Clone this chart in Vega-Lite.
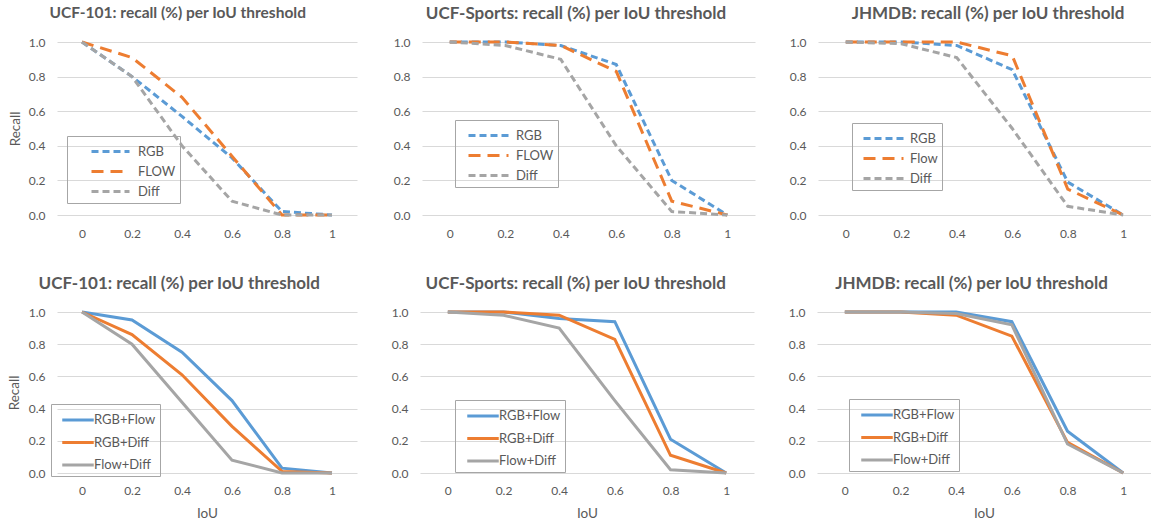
{
  "$schema": "https://vega.github.io/schema/vega-lite/v6.json",
  "padding": {"left": 7, "top": 5, "right": 0, "bottom": 0},
  "background": "white",
  "spacing": 36,
  "resolve": {"scale": {"color": "independent", "strokeDash": "independent"}, "legend": {"color": "independent", "strokeDash": "independent"}},
  "config": {
    "font": "Lato",
    "view": {"stroke": null},
    "axis": {"labelColor": "#595959", "labelFontSize": 12, "titleColor": "#595959", "titleFontSize": 13.5, "titleFontWeight": "normal", "gridColor": "#D9D9D9", "ticks": false, "domain": false},
    "axisX": {"grid": false, "labelAngle": 0, "labelPadding": 12},
    "axisY": {"grid": true, "labelPadding": 12, "titlePadding": 8},
    "title": {"fontSize": 17, "fontWeight": "bold", "color": "#595959", "frame": "bounds", "anchor": "middle", "offset": 13},
    "legend": {"orient": "none", "strokeColor": "#A6A6A6", "padding": 4, "symbolStrokeWidth": 3, "labelFontSize": 13, "labelColor": "#595959", "title": null, "rowPadding": 1}
  },
  "vconcat": [
    {
      "spacing": 0,
      "resolve": {"scale": {"color": "independent", "strokeDash": "independent"}, "legend": {"color": "independent", "strokeDash": "independent"}},
      "hconcat": [
        {
          "width": 300, "height": 173,
          "title": {"text": "UCF-101: recall (%) per IoU threshold", "fontSize": 15.5, "offset": 14.6, "dx": -5},
          "data": {"values": [
            {"iou": 0, "series": "RGB", "recall": 1.0}, {"iou": 0.2, "series": "RGB", "recall": 0.8}, {"iou": 0.4, "series": "RGB", "recall": 0.57}, {"iou": 0.6, "series": "RGB", "recall": 0.33}, {"iou": 0.8, "series": "RGB", "recall": 0.02}, {"iou": 1, "series": "RGB", "recall": 0.0},
            {"iou": 0, "series": "FLOW", "recall": 1.0}, {"iou": 0.2, "series": "FLOW", "recall": 0.91}, {"iou": 0.4, "series": "FLOW", "recall": 0.68}, {"iou": 0.6, "series": "FLOW", "recall": 0.34}, {"iou": 0.8, "series": "FLOW", "recall": 0.0}, {"iou": 1, "series": "FLOW", "recall": 0.0},
            {"iou": 0, "series": "Diff", "recall": 1.0}, {"iou": 0.2, "series": "Diff", "recall": 0.8}, {"iou": 0.4, "series": "Diff", "recall": 0.4}, {"iou": 0.6, "series": "Diff", "recall": 0.08}, {"iou": 0.8, "series": "Diff", "recall": 0.0}, {"iou": 1, "series": "Diff", "recall": 0.0}
          ]},
          "mark": {"type": "line", "strokeWidth": 3},
          "encoding": {
            "x": {"field": "iou", "type": "ordinal", "scale": {"type": "point", "padding": 0.5}, "axis": {"title": null, "labelPadding": 13, "minExtent": 24, "maxExtent": 24}},
            "y": {"field": "recall", "type": "quantitative", "scale": {"domain": [0, 1]}, "axis": {"title": "Recall", "values": [0, 0.2, 0.4, 0.6, 0.8, 1], "format": ".1f", "minExtent": 26.5, "maxExtent": 26.5}},
            "color": {"field": "series", "type": "nominal", "scale": {"domain": ["RGB", "FLOW", "Diff"], "range": ["#5B9BD5", "#ED7D31", "#A5A5A5"]}, "legend": {"legendX": 10, "legendY": 94, "symbolType": "M-1.9,0L1.9,0", "symbolSize": 400, "symbolOffset": 28, "labelOffset": 16}},
            "strokeDash": {"field": "series", "type": "nominal", "scale": {"domain": ["RGB", "FLOW", "Diff"], "range": [[7, 4], [12, 7], [7, 4]]}, "legend": {"legendX": 10, "legendY": 94, "symbolType": "M-1.9,0L1.9,0", "symbolSize": 400, "symbolOffset": 28, "labelOffset": 16}}
          }
        },
        {
          "width": 333, "height": 173,
          "title": {"text": "UCF-Sports: recall (%) per IoU threshold", "dx": 20},
          "data": {"values": [
            {"iou": 0, "series": "RGB", "recall": 1.0}, {"iou": 0.2, "series": "RGB", "recall": 1.0}, {"iou": 0.4, "series": "RGB", "recall": 0.98}, {"iou": 0.6, "series": "RGB", "recall": 0.87}, {"iou": 0.8, "series": "RGB", "recall": 0.2}, {"iou": 1, "series": "RGB", "recall": 0.0},
            {"iou": 0, "series": "FLOW", "recall": 1.0}, {"iou": 0.2, "series": "FLOW", "recall": 1.0}, {"iou": 0.4, "series": "FLOW", "recall": 0.98}, {"iou": 0.6, "series": "FLOW", "recall": 0.83}, {"iou": 0.8, "series": "FLOW", "recall": 0.08}, {"iou": 1, "series": "FLOW", "recall": 0.0},
            {"iou": 0, "series": "Diff", "recall": 1.0}, {"iou": 0.2, "series": "Diff", "recall": 0.98}, {"iou": 0.4, "series": "Diff", "recall": 0.9}, {"iou": 0.6, "series": "Diff", "recall": 0.4}, {"iou": 0.8, "series": "Diff", "recall": 0.02}, {"iou": 1, "series": "Diff", "recall": 0.0}
          ]},
          "mark": {"type": "line", "strokeWidth": 3},
          "encoding": {
            "x": {"field": "iou", "type": "ordinal", "scale": {"type": "point", "padding": 0.5}, "axis": {"title": null, "labelPadding": 13, "minExtent": 24, "maxExtent": 24}},
            "y": {"field": "recall", "type": "quantitative", "scale": {"domain": [0, 1]}, "axis": {"title": null, "values": [0, 0.2, 0.4, 0.6, 0.8, 1], "format": ".1f", "minExtent": 65, "maxExtent": 65}},
            "color": {"field": "series", "type": "nominal", "scale": {"domain": ["RGB", "FLOW", "Diff"], "range": ["#5B9BD5", "#ED7D31", "#A5A5A5"]}, "legend": {"legendX": 33, "legendY": 78, "symbolType": "M-2,0L2,0", "symbolSize": 400, "symbolOffset": 18, "labelOffset": 16}},
            "strokeDash": {"field": "series", "type": "nominal", "scale": {"domain": ["RGB", "FLOW", "Diff"], "range": [[7, 4], [12, 7], [7, 4]]}, "legend": {"legendX": 33, "legendY": 78, "symbolType": "M-2,0L2,0", "symbolSize": 400, "symbolOffset": 18, "labelOffset": 16}}
          }
        },
        {
          "width": 333, "height": 173,
          "title": {"text": "JHMDB: recall (%) per IoU threshold", "dx": 35},
          "data": {"values": [
            {"iou": 0, "series": "RGB", "recall": 1.0}, {"iou": 0.2, "series": "RGB", "recall": 1.0}, {"iou": 0.4, "series": "RGB", "recall": 0.98}, {"iou": 0.6, "series": "RGB", "recall": 0.84}, {"iou": 0.8, "series": "RGB", "recall": 0.19}, {"iou": 1, "series": "RGB", "recall": 0.0},
            {"iou": 0, "series": "Flow", "recall": 1.0}, {"iou": 0.2, "series": "Flow", "recall": 1.0}, {"iou": 0.4, "series": "Flow", "recall": 1.0}, {"iou": 0.6, "series": "Flow", "recall": 0.92}, {"iou": 0.8, "series": "Flow", "recall": 0.15}, {"iou": 1, "series": "Flow", "recall": 0.0},
            {"iou": 0, "series": "Diff", "recall": 1.0}, {"iou": 0.2, "series": "Diff", "recall": 0.99}, {"iou": 0.4, "series": "Diff", "recall": 0.91}, {"iou": 0.6, "series": "Diff", "recall": 0.5}, {"iou": 0.8, "series": "Diff", "recall": 0.05}, {"iou": 1, "series": "Diff", "recall": 0.0}
          ]},
          "mark": {"type": "line", "strokeWidth": 3},
          "encoding": {
            "x": {"field": "iou", "type": "ordinal", "scale": {"type": "point", "padding": 0.5}, "axis": {"title": null, "labelPadding": 13, "minExtent": 24, "maxExtent": 24}},
            "y": {"field": "recall", "type": "quantitative", "scale": {"domain": [0, 1]}, "axis": {"title": null, "values": [0, 0.2, 0.4, 0.6, 0.8, 1], "format": ".1f", "minExtent": 63, "maxExtent": 63}},
            "color": {"field": "series", "type": "nominal", "scale": {"domain": ["RGB", "Flow", "Diff"], "range": ["#5B9BD5", "#ED7D31", "#A5A5A5"]}, "legend": {"legendX": 34, "legendY": 81, "symbolType": "M-2,0L2,0", "symbolSize": 400, "symbolOffset": 16, "labelOffset": 15}},
            "strokeDash": {"field": "series", "type": "nominal", "scale": {"domain": ["RGB", "Flow", "Diff"], "range": [[7, 4], [12, 7], [7, 4]]}, "legend": {"legendX": 34, "legendY": 81, "symbolType": "M-2,0L2,0", "symbolSize": 400, "symbolOffset": 16, "labelOffset": 15}}
          }
        }
      ]
    },
    {
      "spacing": 0,
      "resolve": {"scale": {"color": "independent"}, "legend": {"color": "independent"}},
      "hconcat": [
        {
          "width": 300, "height": 161,
          "title": {"text": "UCF-101: recall (%) per IoU threshold", "dx": -3},
          "data": {"values": [
            {"iou": 0, "series": "RGB+Flow", "recall": 1.0}, {"iou": 0.2, "series": "RGB+Flow", "recall": 0.95}, {"iou": 0.4, "series": "RGB+Flow", "recall": 0.75}, {"iou": 0.6, "series": "RGB+Flow", "recall": 0.45}, {"iou": 0.8, "series": "RGB+Flow", "recall": 0.03}, {"iou": 1, "series": "RGB+Flow", "recall": 0.0},
            {"iou": 0, "series": "RGB+Diff", "recall": 1.0}, {"iou": 0.2, "series": "RGB+Diff", "recall": 0.86}, {"iou": 0.4, "series": "RGB+Diff", "recall": 0.61}, {"iou": 0.6, "series": "RGB+Diff", "recall": 0.29}, {"iou": 0.8, "series": "RGB+Diff", "recall": 0.01}, {"iou": 1, "series": "RGB+Diff", "recall": 0.0},
            {"iou": 0, "series": "Flow+Diff", "recall": 1.0}, {"iou": 0.2, "series": "Flow+Diff", "recall": 0.8}, {"iou": 0.4, "series": "Flow+Diff", "recall": 0.44}, {"iou": 0.6, "series": "Flow+Diff", "recall": 0.08}, {"iou": 0.8, "series": "Flow+Diff", "recall": 0.0}, {"iou": 1, "series": "Flow+Diff", "recall": 0.0}
          ]},
          "mark": {"type": "line", "strokeWidth": 3},
          "encoding": {
            "x": {"field": "iou", "type": "ordinal", "scale": {"type": "point", "padding": 0.5}, "axis": {"title": "IoU", "titlePadding": 10}},
            "y": {"field": "recall", "type": "quantitative", "scale": {"domain": [0, 1]}, "axis": {"title": "Recall", "values": [0, 0.2, 0.4, 0.6, 0.8, 1], "format": ".1f", "minExtent": 27.5, "maxExtent": 27.5}},
            "color": {"field": "series", "type": "nominal", "scale": {"domain": ["RGB+Flow", "RGB+Diff", "Flow+Diff"], "range": ["#5B9BD5", "#ED7D31", "#A5A5A5"]}, "legend": {"legendX": -6, "legendY": 92, "symbolType": "M-1.5,0L1.5,0", "symbolSize": 441, "symbolOffset": 11, "labelOffset": 4, "rowPadding": 3.5}}
          }
        },
        {
          "width": 334, "height": 161,
          "title": {"text": "UCF-Sports: recall (%) per IoU threshold", "dx": 20},
          "data": {"values": [
            {"iou": 0, "series": "RGB+Flow", "recall": 1.0}, {"iou": 0.2, "series": "RGB+Flow", "recall": 1.0}, {"iou": 0.4, "series": "RGB+Flow", "recall": 0.96}, {"iou": 0.6, "series": "RGB+Flow", "recall": 0.94}, {"iou": 0.8, "series": "RGB+Flow", "recall": 0.21}, {"iou": 1, "series": "RGB+Flow", "recall": 0.0},
            {"iou": 0, "series": "RGB+Diff", "recall": 1.0}, {"iou": 0.2, "series": "RGB+Diff", "recall": 1.0}, {"iou": 0.4, "series": "RGB+Diff", "recall": 0.98}, {"iou": 0.6, "series": "RGB+Diff", "recall": 0.83}, {"iou": 0.8, "series": "RGB+Diff", "recall": 0.11}, {"iou": 1, "series": "RGB+Diff", "recall": 0.0},
            {"iou": 0, "series": "Flow+Diff", "recall": 1.0}, {"iou": 0.2, "series": "Flow+Diff", "recall": 0.98}, {"iou": 0.4, "series": "Flow+Diff", "recall": 0.9}, {"iou": 0.6, "series": "Flow+Diff", "recall": 0.45}, {"iou": 0.8, "series": "Flow+Diff", "recall": 0.02}, {"iou": 1, "series": "Flow+Diff", "recall": 0.0}
          ]},
          "mark": {"type": "line", "strokeWidth": 3},
          "encoding": {
            "x": {"field": "iou", "type": "ordinal", "scale": {"type": "point", "padding": 0.5}, "axis": {"title": "IoU", "titlePadding": 10}},
            "y": {"field": "recall", "type": "quantitative", "scale": {"domain": [0, 1]}, "axis": {"title": null, "values": [0, 0.2, 0.4, 0.6, 0.8, 1], "format": ".1f", "minExtent": 62.5, "maxExtent": 62.5}},
            "color": {"field": "series", "type": "nominal", "scale": {"domain": ["RGB+Flow", "RGB+Diff", "Flow+Diff"], "range": ["#5B9BD5", "#ED7D31", "#A5A5A5"]}, "legend": {"legendX": 35, "legendY": 88, "symbolType": "M-1.5,0L1.5,0", "symbolSize": 441, "symbolOffset": 12, "labelOffset": 4, "rowPadding": 3.5}}
          }
        },
        {
          "width": 334, "height": 161,
          "title": {"text": "JHMDB: recall (%) per IoU threshold", "dx": 19},
          "data": {"values": [
            {"iou": 0, "series": "RGB+Flow", "recall": 1.0}, {"iou": 0.2, "series": "RGB+Flow", "recall": 1.0}, {"iou": 0.4, "series": "RGB+Flow", "recall": 1.0}, {"iou": 0.6, "series": "RGB+Flow", "recall": 0.94}, {"iou": 0.8, "series": "RGB+Flow", "recall": 0.26}, {"iou": 1, "series": "RGB+Flow", "recall": 0.0},
            {"iou": 0, "series": "RGB+Diff", "recall": 1.0}, {"iou": 0.2, "series": "RGB+Diff", "recall": 1.0}, {"iou": 0.4, "series": "RGB+Diff", "recall": 0.98}, {"iou": 0.6, "series": "RGB+Diff", "recall": 0.85}, {"iou": 0.8, "series": "RGB+Diff", "recall": 0.19}, {"iou": 1, "series": "RGB+Diff", "recall": 0.0},
            {"iou": 0, "series": "Flow+Diff", "recall": 1.0}, {"iou": 0.2, "series": "Flow+Diff", "recall": 1.0}, {"iou": 0.4, "series": "Flow+Diff", "recall": 0.99}, {"iou": 0.6, "series": "Flow+Diff", "recall": 0.92}, {"iou": 0.8, "series": "Flow+Diff", "recall": 0.18}, {"iou": 1, "series": "Flow+Diff", "recall": 0.0}
          ]},
          "mark": {"type": "line", "strokeWidth": 3},
          "encoding": {
            "x": {"field": "iou", "type": "ordinal", "scale": {"type": "point", "padding": 0.5}, "axis": {"title": "IoU", "titlePadding": 10}},
            "y": {"field": "recall", "type": "quantitative", "scale": {"domain": [0, 1]}, "axis": {"title": null, "values": [0, 0.2, 0.4, 0.6, 0.8, 1], "format": ".1f", "minExtent": 63, "maxExtent": 63}},
            "color": {"field": "series", "type": "nominal", "scale": {"domain": ["RGB+Flow", "RGB+Diff", "Flow+Diff"], "range": ["#5B9BD5", "#ED7D31", "#A5A5A5"]}, "legend": {"legendX": 32, "legendY": 87, "symbolType": "M-1.5,0L1.5,0", "symbolSize": 441, "symbolOffset": 12, "labelOffset": 4, "rowPadding": 3.5}}
          }
        }
      ]
    }
  ]
}
